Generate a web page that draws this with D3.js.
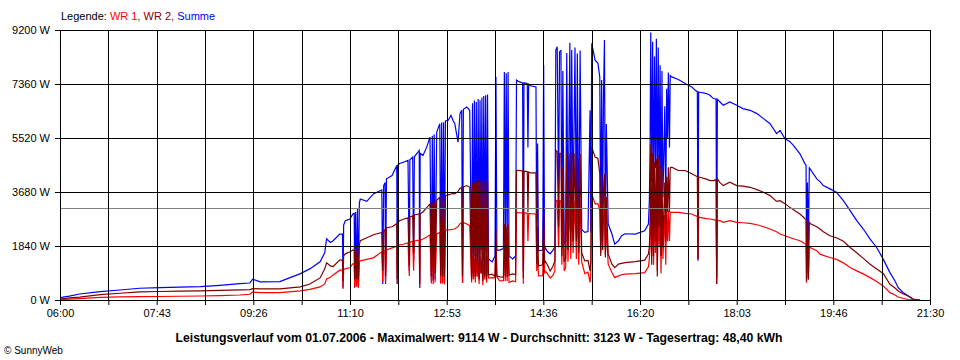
<!DOCTYPE html>
<html><head><meta charset="utf-8">
<script src="https://cdn.jsdelivr.net/npm/d3@7"></script>
<style>
html,body{margin:0;padding:0;background:#fff;}
svg{display:block;font-family:"Liberation Sans",Arial,sans-serif;}
</style></head><body>
<svg id="chart" width="960" height="360"></svg>
<script>
// minutes after 06:00
const times = [0,10,21,43,64,85,107,128,150,171,192,203,206,214,235,257,267,278,283,285,289,292,299,302,302.5,303.2,305,310,313,314.5,315,316,317,318,319,320,321,328,335,344,345,346,347.5,348,349,355,360,360.5,361,363,367,372,373.4,374,377,378,378.8,384,384.5,385,388,392,395.5,397,398,399,400,401,402.7,406,407,408,409,410,411,412,415,418,420,422,425.5,427.6,429.4,430.3,431.2,434.8,438,440,441,442,443,444,445,446,447,448,449,450,451,452,453,454,455,456,457,458,462,465,466,467,470,474,475,476,477,478,479,480,484,487,488,490,494.5,495.3,496,499.5,500.2,501,503,508.8,509.6,510.5,511.5,516,517,518,518.5,521,524,527,529,530,531.5,533,534,535.5,536.5,537.5,539,540.5,541.7,543,545,546,547,548.5,550.5,552,553,554.5,556,557.7,561,564.4,566.6,567.4,568.4,572,575,577,578,579,580,581,582,583,584,586,590,593,597,600.4,604,615,625,629,630,630.7,631.5,632.5,633.5,634.5,635.5,636.5,637.5,638.5,639.5,640.5,641.5,642.5,643.5,644.5,645.5,646.5,647.5,648.5,649.5,650.3,651.5,652.3,654,661,668.2,675.3,679,681.3,682,682.7,684,691,694.9,698.4,701.3,702,702.7,705.5,709,716,723.4,730,737.6,745,752,759,766,769.7,775,780,784,791,796.4,797.5,798,799,800,801,801.8,809,812.4,816,823,830,837.4,844.6,851.7,858.7,866,873,880,887.2,892.6,896,901.5,906.8,912,919.3];
const wr1 = [10,30,50,92,105,113,120,128,137,150,171,195,274,250,250,308,360,445,547,718,776,855,1016,1016,376,1040,1060,1105,1231,1240,430,1260,450,1280,420,1300,1334,1385,1436,1642,615,1650,1680,580,1710,1778,1830,547,1850,1881,1900,1950,821,1970,2000,1000,2010,2040,410,2042,2080,2150,2223,560,2230,540,2240,600,2260,2300,550,2320,560,2360,530,2384,2390,2400,2410,2418,2500,2600,2630,600,2640,2589,2531,600,1500,700,1400,600,1600,800,1300,550,1500,900,1400,500,1600,700,1450,600,1500,750,760,750,1900,780,650,660,2000,650,2000,640,2050,600,650,620,2986,2980,2970,550,2965,2960,2000,2950,2940,2930,990,1500,820,830,2000,900,990,900,750,850,990,3386,3386,1800,3380,3370,1200,3000,990,1100,3386,1300,3400,1400,3386,1600,3386,1400,3380,1200,3380,1300,900,950,600,900,3615,3273,3283,3044,1600,3000,1700,2800,3100,1550,2500,1221,934,763,821,860,879,900,934,1129,1400,1800,3400,1500,3300,1200,3300,1600,3200,1000,3300,1800,3000,900,3300,1400,2200,2900,1200,3000,2000,3044,2000,2990,2986,2986,2951,2931,2873,2850,1400,2830,2815,2770,2760,2740,2720,547,2702,2702,2644,2702,2644,2633,2609,2565,2497,2418,2326,2247,2189,2131,2086,2018,1915,1900,592,1850,700,1800,1789,1676,1563,1522,1447,1385,1265,1105,992,889,763,633,479,250,171,103,51,17,0,0];
const wr2 = [34,70,100,180,230,275,290,300,310,325,342,352,386,376,376,445,547,752,1060,1265,1163,1140,1358,1360,650,1500,1573,1642,1700,1710,700,1750,720,1800,700,1900,2018,2120,2223,2302,990,2350,2400,820,2462,2497,2600,718,2650,2702,2750,2800,1160,2830,2870,1600,2900,2930,547,2931,3000,3150,3273,800,3300,700,3350,900,3400,3500,820,3520,800,3540,780,3557,3580,3610,3635,3615,3700,3800,3840,800,3850,3899,3840,700,3950,800,4000,800,4050,900,4100,700,4000,900,4050,650,4100,800,4050,700,4140,850,880,800,2400,820,790,780,2600,800,2500,780,2600,850,890,870,4412,4420,4400,750,4390,4380,3000,4360,4330,4330,1230,2500,1160,1200,3000,1250,1334,1200,990,1150,1334,5100,5050,2500,5000,5000,1500,4500,1300,1400,4990,1700,5000,1800,5050,2000,5000,2000,4950,1600,4980,1600,1334,1350,990,1300,5210,4867,4822,4309,1500,4200,1700,3800,4300,1450,3500,1563,1221,1105,1221,1250,1276,1310,1358,1563,1800,2500,5300,1200,5000,1500,4700,2000,4800,800,4900,2500,4600,1500,4400,1800,3000,4000,2000,4200,3000,4525,3000,4500,4525,4412,4412,4299,4240,4200,1400,4190,4183,4120,4070,4070,4100,547,4128,4000,3899,4012,3899,3882,3840,3762,3670,3557,3362,3386,3283,3157,3078,2931,2770,2750,650,2700,700,2650,2609,2497,2418,2326,2189,2120,2000,1789,1607,1419,1221,1060,906,537,410,308,205,137,34,0];
const summe = [80,130,205,285,340,400,420,440,455,500,557,580,708,616,626,900,1060,1300,1607,2086,1960,2018,2247,2250,420,2550,2702,2760,2931,2950,420,3000,450,3100,430,3300,3444,3362,3615,3752,547,3900,4000,547,4128,4241,4583,547,4600,4650,4695,4754,992,4780,4867,1334,4880,5096,420,5000,4925,5208,5550,650,5600,650,5650,700,5722,6009,580,6050,600,6060,580,6100,6122,6293,6122,6009,5380,6351,6464,580,6500,6577,6464,1200,6700,900,6800,1500,6750,800,6850,1100,6806,1700,6900,900,6950,1300,6977,1000,7000,1400,1300,1500,7600,1700,1700,1750,7770,1700,7730,1650,7770,1500,1400,1500,7490,7450,7400,990,7400,7380,5200,7350,7300,7260,1790,5335,1676,1700,8003,1700,1790,1650,1573,1700,1810,8516,8630,3700,8460,8500,1800,7800,1900,2000,8413,2200,8765,2500,8516,3000,8600,2500,8400,1800,8500,2400,2302,2330,6464,2300,8745,8174,8071,7603,2000,7500,2500,7000,8858,1800,6000,2589,2247,1905,2018,2189,2257,2247,2360,2589,3386,5000,9114,4000,8800,3500,8300,4500,8900,3000,8600,4000,8000,2500,7800,3500,5000,6600,3000,7200,5500,7753,5200,7650,7603,7514,7377,7261,7148,7100,1334,7090,7080,7035,6977,6864,6850,763,6840,6748,6635,6748,6635,6522,6464,6351,6180,6009,5667,5780,5496,5404,5267,4983,4641,4600,1563,4000,1800,4500,4470,4128,4036,3899,3786,3670,3386,3044,2702,2418,2076,1789,1392,934,650,420,250,137,24,0];

const seriesNames = ["WR 1", "WR 2", "Summe"];
const yTickValues = [0, 1840, 3680, 5520, 7360, 9200];
const xTickLabels = ["06:00","07:43","09:26","11:10","12:53","14:36","16:20","18:03","19:46","21:30"];
const averageValue = 3123;
const captionText = "Leistungsverlauf vom 01.07.2006 - Maximalwert: 9114 W - Durchschnitt: 3123 W - Tagesertrag: 48,40 kWh";
const copyrightText = "\u00A9 SunnyWeb";

(function () {
const colors = {"WR 1": "#ff0000", "WR 2": "#800000", "Summe": "#0000ff"};
const valuesByName = {"WR 1": wr1, "WR 2": wr2, "Summe": summe};

const svg = d3.select("#chart");
const mLeft = 60, mRight = 930, mTop = 30, mBottom = 300;
const x = d3.scaleLinear().domain([0, 930]).range([mLeft, mRight]);
const y = d3.scaleLinear().domain([0, 9200]).range([mBottom, mTop]);

const drawOrder = ["Summe", "WR 1", "WR 2"];
const line = d3.line().x((d, i) => x(times[i])).y(d => y(d));
svg.append("g").selectAll("path").data(drawOrder).join("path")
  .attr("d", n => line(valuesByName[n]))
  .attr("fill", "none")
  .attr("stroke", n => colors[n])
  .attr("stroke-width", 1.2)
  .attr("stroke-linejoin", "miter");

svg.append("line")
  .attr("x1", mLeft).attr("x2", mRight)
  .attr("y1", Math.round(y(averageValue)) + 0.5).attr("y2", Math.round(y(averageValue)) + 0.5)
  .attr("stroke", "#808080").attr("stroke-width", 1);

const xGrid = d3.range(19).map(i => i * 930 / 18);
const grid = svg.append("g").attr("stroke", "#000").attr("stroke-width", 1).attr("shape-rendering", "crispEdges");
grid.selectAll("line.v").data(xGrid).join("line").attr("class", "v")
  .attr("x1", d => Math.round(x(d)) + 0.5).attr("x2", d => Math.round(x(d)) + 0.5)
  .attr("y1", mTop).attr("y2", mBottom + 1);
grid.selectAll("line.h").data(yTickValues).join("line").attr("class", "h")
  .attr("x1", mLeft).attr("x2", mRight + 1)
  .attr("y1", d => Math.round(y(d)) + 0.5).attr("y2", d => Math.round(y(d)) + 0.5);

const yAxis = d3.axisLeft(y).tickValues(yTickValues).tickFormat(d => d + " W").tickSize(5).tickPadding(5);
const gy = svg.append("g").attr("transform", `translate(${mLeft},0)`).call(yAxis);
gy.select(".domain").remove();
gy.selectAll("text").attr("font-size", 11).attr("font-family", "Liberation Sans, Arial, sans-serif").attr("fill", "#000");

const xAxis = d3.axisBottom(x).tickValues(xGrid)
  .tickFormat((d, i) => i % 2 === 0 ? xTickLabels[i / 2] : "").tickSize(5).tickPadding(4);
const gx = svg.append("g").attr("transform", `translate(0,${mBottom})`).call(xAxis);
gx.select(".domain").remove();
gx.selectAll("text").attr("font-size", 11).attr("font-family", "Liberation Sans, Arial, sans-serif").attr("fill", "#000");

const leg = svg.append("text").attr("x", 61).attr("y", 20).attr("font-size", 11);
leg.append("tspan").attr("fill", "#000").text("Legende: ");
seriesNames.forEach((n, i) => {
  leg.append("tspan").attr("fill", colors[n]).text(n + (i < seriesNames.length - 1 ? ", " : ""));
});

svg.append("text").attr("x", 479).attr("y", 342).attr("text-anchor", "middle")
  .attr("font-size", 12).attr("font-weight", "bold")
  .attr("textLength", 607).attr("lengthAdjust", "spacingAndGlyphs")
  .text(captionText);
svg.append("text").attr("x", 4).attr("y", 354).attr("font-size", 10).text(copyrightText);
})();
</script>
</body></html>
